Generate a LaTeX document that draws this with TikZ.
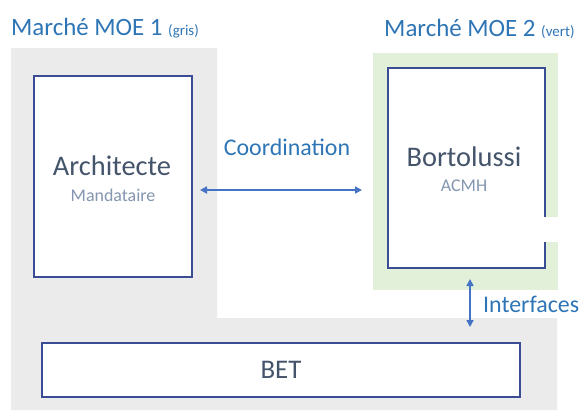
\documentclass[tikz,border=0pt]{standalone}
\usepackage{fontspec}
\setmainfont{Carlito}
\usetikzlibrary{arrows.meta}

\definecolor{grisfond}{RGB}{235,235,235}
\definecolor{vertfond}{RGB}{226,239,217}
\definecolor{bordbleu}{RGB}{58,76,148}
\definecolor{titrebleu}{RGB}{46,117,182}
\definecolor{nombleu}{RGB}{68,84,106}
\definecolor{sousgris}{RGB}{132,150,176}
\definecolor{flechebleu}{RGB}{68,114,196}

\tikzset{
  acteur/.style={draw=bordbleu, line width=2.2bp, fill=white, inner sep=0pt},
  titre/.style={text=titrebleu, anchor=west, inner sep=0pt, font=\fontsize{25}{28}\selectfont},
  lien/.style={draw=flechebleu, line width=1.6bp, {Triangle[length=7bp,width=7bp]}-{Triangle[length=7bp,width=7bp]}},
  lienlabel/.style={text=titrebleu, inner sep=0pt, font=\fontsize{24}{27}\selectfont}
}

\begin{document}
\begin{tikzpicture}[x=1bp, y=-1bp]
    \useasboundingbox (0, 0) rectangle (580, 410);
    %\draw[style=help lines,very thin] (0, 0) grid[step=50] (580, 410);

    % fonds des marches
    \fill[grisfond] (11, 48) -- (217, 48) -- (217, 318) -- (557, 318)
      -- (557, 410) -- (11, 410) -- cycle;
    \fill[vertfond] (373, 53) rectangle (558, 290);

    \node[titre] (moe1) at (11, 28) {Marché MOE 1 {\fontsize{15}{17}\selectfont(gris)}};
    \node[titre] (moe2) at (384, 29) {Marché MOE 2 {\fontsize{15}{17}\selectfont(vert)}};

    % acteurs
    \node[acteur, minimum width=158bp, minimum height=201bp] (archi) at (113, 176.5) {};
    \node[text=nombleu, font=\fontsize{28.5}{30}\selectfont] (archinom) at (112, 166) {Architecte};
    \node[text=sousgris, font=\fontsize{18}{20}\selectfont] (archisous) at (113, 195) {Mandataire};

    \node[acteur, minimum width=157bp, minimum height=200bp] (borto) at (466.5, 168) {};
    \node[text=nombleu, font=\fontsize{28.5}{30}\selectfont] (bortonom) at (464, 157) {Bortolussi};
    \node[text=sousgris, font=\fontsize{18}{20}\selectfont] (bortosous) at (464, 186) {ACMH};
    \fill[white] (540, 217) rectangle (580, 242);

    \node[acteur, minimum width=478bp, minimum height=54bp,
      text=nombleu, font=\fontsize{27}{30}\selectfont] (bet) at (281, 370) {BET};

    % liens
    \coordinate (coordG) at (200, 190);
    \coordinate (coordD) at (362, 190);
    \draw[lien] (coordG) -- (coordD);
    \node[lienlabel] (coordlab) at (287, 147) {Coordination};

    \coordinate (interH) at (470, 279);
    \coordinate (interB) at (470, 327);
    \draw[lien] (interH) -- (interB);
    \node[lienlabel, anchor=west] (interlab) at (483, 304) {Interfaces};
  \end{tikzpicture}
\end{document}
